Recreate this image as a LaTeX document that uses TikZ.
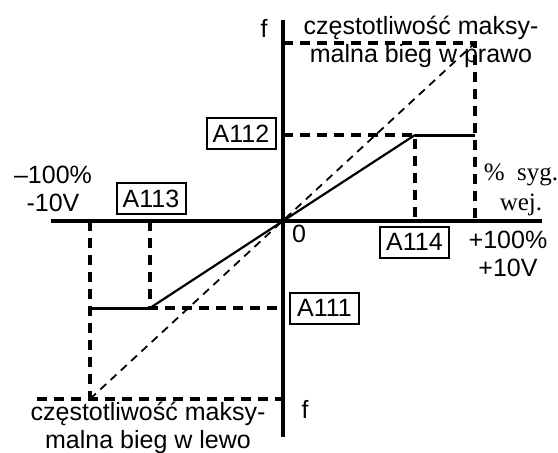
\documentclass[tikz,border=0pt]{standalone}
\usepackage{fontspec}
\setmainfont{Liberation Sans}
\newfontfamily\sygfont{Liberation Serif}
\usepackage{tikz}
\usetikzlibrary{positioning}

\begin{document}
\begin{tikzpicture}[x=1pt,y=-1pt,font=\fontsize{25}{27.5}\selectfont]
\tikzstyle{axis}=[line width=3.4pt]
\tikzstyle{guide}=[line width=3.2pt, dash pattern=on 10pt off 7pt]
\tikzstyle{limit}=[line width=3pt]
\tikzstyle{curve}=[line width=2.2pt]
\tikzstyle{ideal}=[line width=1.8pt, dash pattern=on 8pt off 6pt]
\tikzstyle{param}=[draw, line width=2pt, inner sep=0pt, minimum width=69pt, minimum height=31pt]
\tikzstyle{lbl}=[inner sep=0pt, align=center]

\useasboundingbox (0,0) rectangle (558,453);

\coordinate (O) at (283,221);
\coordinate (xl) at (51,221);
\coordinate (xr) at (542,221);
\coordinate (yt) at (283,20);
\coordinate (yb) at (283,437);
\coordinate (fmaxR) at (475,43);
\coordinate (fmaxRaxis) at (283,43);
\coordinate (xmaxR) at (475,221);
\coordinate (bendR) at (415,135);
\coordinate (bendRaxis) at (283,135);
\coordinate (bendRx) at (415,221);
\coordinate (endR) at (475,135);
\coordinate (fmaxL) at (90,399);
\coordinate (fmaxLaxis) at (283,399);
\coordinate (fmaxLend) at (37,399);
\coordinate (xmaxL) at (90,221);
\coordinate (bendL) at (150,308);
\coordinate (bendLaxis) at (283,308);
\coordinate (bendLx) at (150,221);
\coordinate (endL) at (90,308);

\node[lbl] (ftop) at (264,28) {f};
\node[lbl] (maxright) at (421,42) {częstotliwość maksy-\\malna bieg w prawo};
\node[lbl] (maxleft) at (148,428) {częstotliwość maksy-\\malna bieg w lewo};
\node[lbl] (fbot) at (305,409) {f};
\node[lbl] (zero) at (299,234) {0};
\node[lbl] (minus) at (53,189) {–100\%\\-10V};
\node[lbl] (plus) at (508,254) {+100\%\\+10V};
\node[lbl, font=\sygfont\fontsize{25}{30}\selectfont] (syg) at (521,190) {\%\ \ syg.\\wej.};
\node[param] (a112) at (241,133.5) {A112};
\node[param] (a113) at (151,198.5) {A113};
\node[param] (a114) at (414.5,242) {A114};
\node[param] (a111) at (324.5,308) {A111};

\draw[guide] (fmaxRaxis) -- (fmaxR) -- (xmaxR);
\draw[guide] (bendRaxis) -- (bendR) -- (bendRx);
\draw[guide] (fmaxLend) -- (fmaxLaxis);
\draw[guide] (xmaxL) -- (fmaxL);
\draw[guide] (bendLx) -- (bendL) -- (bendLaxis);
\draw[ideal] (fmaxL) -- (fmaxR);
\draw[curve] (bendL) -- (O) -- (bendR);
\draw[limit] (bendR) -- (endR);
\draw[limit] (endL) -- (bendL);
\draw[axis] (xl) -- (xr);
\draw[axis] (yt) -- (yb);
\end{tikzpicture}
\end{document}
